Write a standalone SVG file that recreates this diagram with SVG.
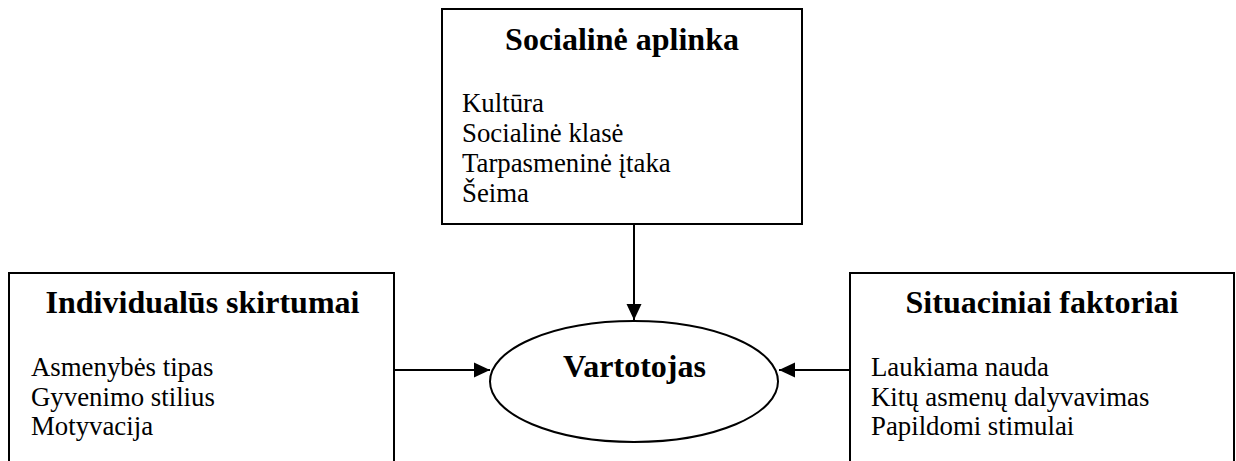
<svg xmlns="http://www.w3.org/2000/svg" width="1236" height="461" viewBox="0 0 1236 461">
<style>
.box{fill:#fff;stroke:#000;stroke-width:2}
.t{font-family:"Liberation Serif","Times New Roman",serif;font-weight:bold;font-size:32px;fill:#000;text-anchor:middle}
.b{font-family:"Liberation Serif","Times New Roman",serif;font-size:26.8px;fill:#000}
.c{stroke:#000;stroke-width:2;fill:none}
</style>
<defs>
<marker id="arr" viewBox="0 0 16 16" refX="16" refY="8" markerWidth="16" markerHeight="16" markerUnits="userSpaceOnUse" orient="auto">
<path d="M0,0.5 L16,8 L0,15.5 Z" fill="#000"/>
</marker>
</defs>
<g id="social">
<rect class="box" x="442" y="9" width="360" height="215"/>
<text class="t" x="622" y="50">Socialinė aplinka</text>
<text class="b" x="462" y="112">Kultūra</text>
<text class="b" x="462" y="142">Socialinė klasė</text>
<text class="b" x="462" y="172">Tarpasmeninė įtaka</text>
<text class="b" x="462" y="202">Šeima</text>
</g>
<g id="individual">
<rect class="box" x="9" y="273" width="385" height="200"/>
<text class="t" x="202.5" y="313">Individualūs skirtumai</text>
<text class="b" x="31" y="376">Asmenybės tipas</text>
<text class="b" x="31" y="406">Gyvenimo stilius</text>
<text class="b" x="31" y="435">Motyvacija</text>
</g>
<g id="situational">
<rect class="box" x="850" y="273" width="384" height="200"/>
<text class="t" x="1042" y="313">Situaciniai faktoriai</text>
<text class="b" x="871" y="376">Laukiama nauda</text>
<text class="b" x="871" y="406">Kitų asmenų dalyvavimas</text>
<text class="b" x="871" y="435">Papildomi stimulai</text>
</g>
<g id="consumer">
<ellipse class="box" cx="634" cy="381.5" rx="144" ry="60.5"/>
<text class="t" x="634.5" y="377">Vartotojas</text>
</g>
<g id="connectors">
<line class="c" x1="634" y1="224" x2="634" y2="320" marker-end="url(#arr)"/>
<line class="c" x1="394" y1="370" x2="490" y2="370" marker-end="url(#arr)"/>
<line class="c" x1="850" y1="370" x2="779" y2="370" marker-end="url(#arr)"/>
</g>
</svg>
